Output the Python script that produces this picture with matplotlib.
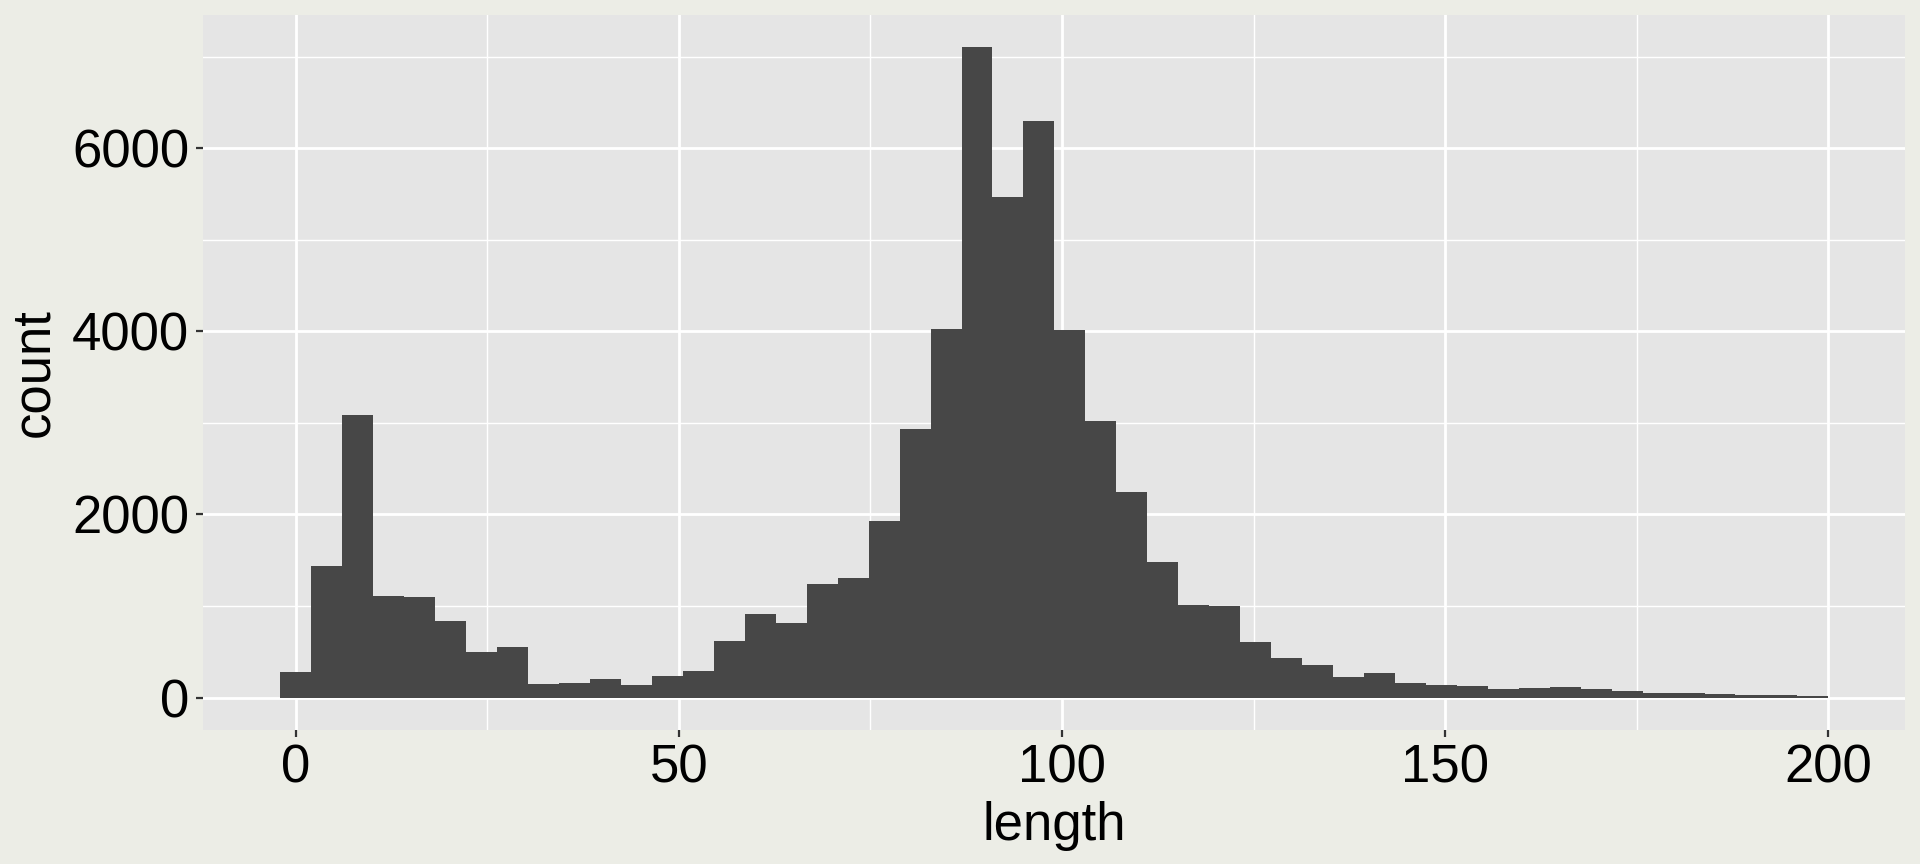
import numpy as np
import matplotlib
matplotlib.use("Agg")
from matplotlib import pyplot as plt
from matplotlib.ticker import MultipleLocator

# histogram data (50 bins from about -2 to 200)
bin_lo = -2.0
bin_hi = 200.0
counts = [277, 1432, 3087, 1107, 1095, 836, 500, 554, 150, 156,
          205, 138, 235, 289, 620, 915, 812, 1240, 1306, 1932,
          2937, 4026, 7107, 5470, 6295, 4014, 3021, 2245, 1480, 1011,
          999, 602, 427, 355, 223, 265, 156, 138, 126, 96,
          102, 114, 96, 72, 48, 48, 36, 24, 24, 12]
x_ticks = [0, 50, 100, 150, 200]
y_ticks = [0, 2000, 4000, 6000]

edges = np.linspace(bin_lo, bin_hi, len(counts) + 1)

plt.rcParams['font.family'] = ['Liberation Sans', 'DejaVu Sans']

fig = plt.figure(figsize=(19.2, 8.64), dpi=100, facecolor='#ecede6')
ax = fig.add_axes([203 / 1920, 1 - 730 / 864, (1905 - 203) / 1920, (730 - 15) / 864])
ax.set_facecolor('#e5e5e5')

ax.bar(edges[:-1], counts, width=np.diff(edges), align='edge',
       color='#474747', linewidth=0, zorder=3)

ax.set_xlim(-12.1, 210)
ax.set_ylim(-355, 7456)
ax.set_xticks(x_ticks)
ax.set_yticks(y_ticks)
ax.xaxis.set_minor_locator(MultipleLocator(25))
ax.yaxis.set_minor_locator(MultipleLocator(1000))

ax.grid(which='major', color='white', linewidth=2.0, zorder=1)
ax.grid(which='minor', color='white', linewidth=1.0, zorder=1)
ax.set_axisbelow(True)
for s in ax.spines.values():
    s.set_visible(False)

ax.tick_params(which='major', length=5, width=1.6, color='#333333',
               labelsize=38, labelcolor='black', pad=5)
ax.tick_params(which='minor', length=0)

ax.set_xlabel('length', fontsize=38, labelpad=5)
ax.set_ylabel('count', fontsize=38, labelpad=9)

fig.savefig('out.png', dpi=100, facecolor=fig.get_facecolor())
